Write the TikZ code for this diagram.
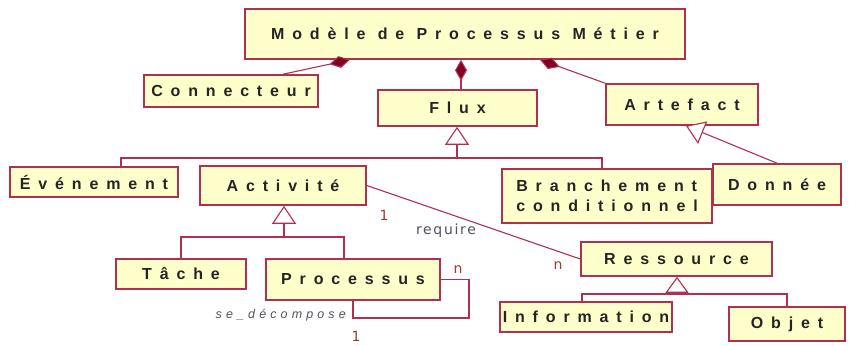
\documentclass[tikz,border=0pt]{standalone}
\usepackage{fontspec}
\usepackage{tikz}
\usetikzlibrary{arrows.meta}
\setmainfont{Liberation Sans}
\newfontfamily\classfont{Liberation Sans}[LetterSpace=49]
\newfontfamily\rolefont{Liberation Sans}[LetterSpace=33]
\newfontfamily\assocfont{DejaVu Sans}[LetterSpace=12]
\definecolor{umlline}{RGB}{176,48,80}
\definecolor{umlfill}{RGB}{255,255,204}
\definecolor{umldiam}{RGB}{128,0,32}
\definecolor{umltext}{RGB}{36,36,36}
\definecolor{multcol}{RGB}{160,56,56}
\definecolor{rolecol}{RGB}{80,80,96}

\begin{document}
\begin{tikzpicture}[x=1pt,y=-1pt]
\tikzstyle{every node}+=[inner sep=0pt]
\tikzstyle{cls}=[draw=umlline, fill=umlfill, line width=1.6pt, text=umltext, font=\classfont\bfseries\fontsize{16}{20}\selectfont]
\tikzstyle{link}=[draw=umlline, line width=1.1pt]
\tikzstyle{comp}=[link, {Diamond[fill=umldiam, length=21pt, width=12pt]}-]
\tikzstyle{inh}=[link, -{Triangle[open, fill=white, length=18pt, width=24pt]}]
\tikzstyle{mult}=[text=multcol, font=\assocfont\fontsize{14}{16}\selectfont]
\tikzstyle{role}=[text=rolecol, font=\assocfont\fontsize{14}{16}\selectfont]
\useasboundingbox (0,0) rectangle (858,345);

\node [cls, minimum width=440, minimum height=50] (mpm) at (465,34) {Modèle de Processus Métier};
\node [cls, minimum width=174, minimum height=32] (conn) at (231,91) {Connecteur};
\node [cls, minimum width=159, minimum height=36] (flux) at (457.5,108) {Flux};
\node [cls, minimum width=152, minimum height=41] (art) at (682,104.5) {Artefact};
\node [cls, minimum width=168, minimum height=30] (evt) at (94,182) {Événement};
\node [cls, minimum width=166, minimum height=39] (act) at (283,185.5) {Activité};
\node [cls, minimum width=210, minimum height=54, align=left] (branch) at (607,196) {Branchement\\conditionnel};
\node [cls, minimum width=128, minimum height=41] (don) at (777,184.5) {Donnée};
\node [cls, minimum width=130, minimum height=30] (tache) at (181,274) {Tâche};
\node [cls, minimum width=174, minimum height=41] (proc) at (353,279.5) {Processus};
\node [cls, minimum width=191, minimum height=34] (res) at (676.5,259) {Ressource};
\node [cls, minimum width=172, minimum height=30] (info) at (586,317) {Information};
\node [cls, minimum width=116, minimum height=34] (obj) at (787,324) {Objet};

\draw [comp] (mpm.south -| 350,0) -- (conn.north -| 283,0);
\draw [comp] (mpm.south -| 461,0) -- (flux.north -| 461,0);
\draw [comp] (mpm.south -| 540,0) -- (art.north west);

\coordinate (fluxbus) at (457,158);
\draw [inh] (fluxbus) -- (flux.south -| fluxbus);
\draw [link] (evt.north -| 121,0) |- (fluxbus) -| (branch.north -| 602,0);

\draw [inh] (don.north -| 777,0) -- (art.south -| 686,0);

\coordinate (actbus) at (284,237);
\draw [inh] (actbus) -- (act.south -| actbus);
\draw [link] (tache.north -| 181,0) |- (actbus) -| (proc.north -| 344,0);

\coordinate (resbus) at (677,294);
\draw [link, -{Triangle[open, fill=white, length=16pt, width=23pt]}] (resbus) -- (res.south -| resbus);
\draw [link] (info.north -| 582,0) |- (resbus) -| (obj.north -| 787,0);

\draw [link] (act.east) -- (res.west);
\node [mult] (m1) at (384,215) {1};
\node [role] (req) at (446,231) {require};
\node [mult] (mn) at (558,266) {n};

\coordinate (loop) at (469,318);
\draw [link] (proc.east) -| (loop) -| (proc.south);
\node [mult] (ln) at (458,270) {n};
\node [mult] (l1) at (356,336) {1};
\node [role, anchor=east, font=\rolefont\itshape\fontsize{12.5}{14}\selectfont] (dec) at (346,315) {se\_décompose};
\end{tikzpicture}
\end{document}
